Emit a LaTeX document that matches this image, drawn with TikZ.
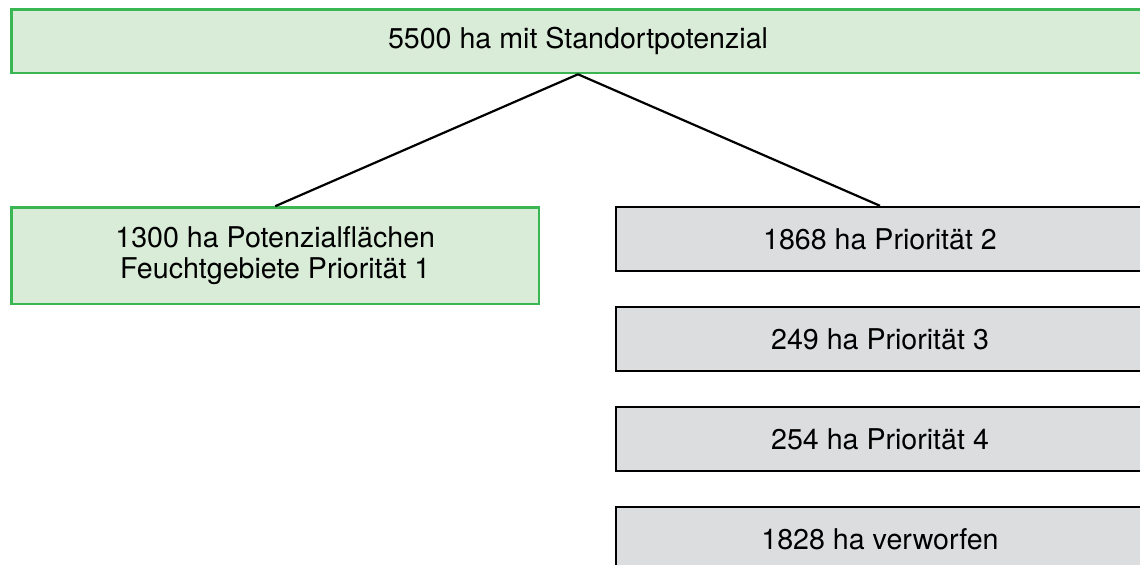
\documentclass[tikz,border=0pt]{standalone}
\usepackage{fontspec}
\setmainfont{TeX Gyre Heros}
\definecolor{gruenrand}{RGB}{58,182,82}
\definecolor{gruenfuell}{RGB}{217,236,216}
\definecolor{graufuell}{RGB}{220,221,223}

\tikzstyle{flaeche} = [rectangle, draw=gruenrand, fill=gruenfuell, line width=1.3pt,
    inner sep=0pt, align=center, font=\fontsize{14.3}{15.8}\selectfont]
\tikzstyle{prio} = [rectangle, draw=black, fill=graufuell, line width=1.2pt,
    inner sep=0pt, minimum width=264pt, minimum height=32pt,
    font=\fontsize{14.3}{15.8}\selectfont]

\begin{document}
\begin{tikzpicture}[x=0.5pt,y=-0.5pt]
	\useasboundingbox (0,0) rectangle (1140,565);
	\clip (0,0) rectangle (1140,565);
	\node [flaeche, minimum width=566.5pt, minimum height=31.75pt] (ges) at (578,41.25) {5500 ha mit Standortpotenzial};
	%
	\node [flaeche, minimum width=263.75pt, minimum height=48.25pt] (pa) at (275.25,255.75) {1300 ha Potenzialflächen\\Feuchtgebiete Priorität 1};
	%
	\node [prio] (pb) at (880,239) {1868 ha Priorität 2};
	\node [prio] (pc) at (880,339) {249 ha Priorität 3};
	\node [prio] (pd) at (880,439) {254 ha Priorität 4};
	\node [prio] (pv) at (880,539) {1828 ha verworfen};
	%
	\draw [line width=1.1pt] (ges.south) -- (pa.north);
	\draw [line width=1.1pt] (ges.south) -- (pb.north);
\end{tikzpicture}
\end{document}
